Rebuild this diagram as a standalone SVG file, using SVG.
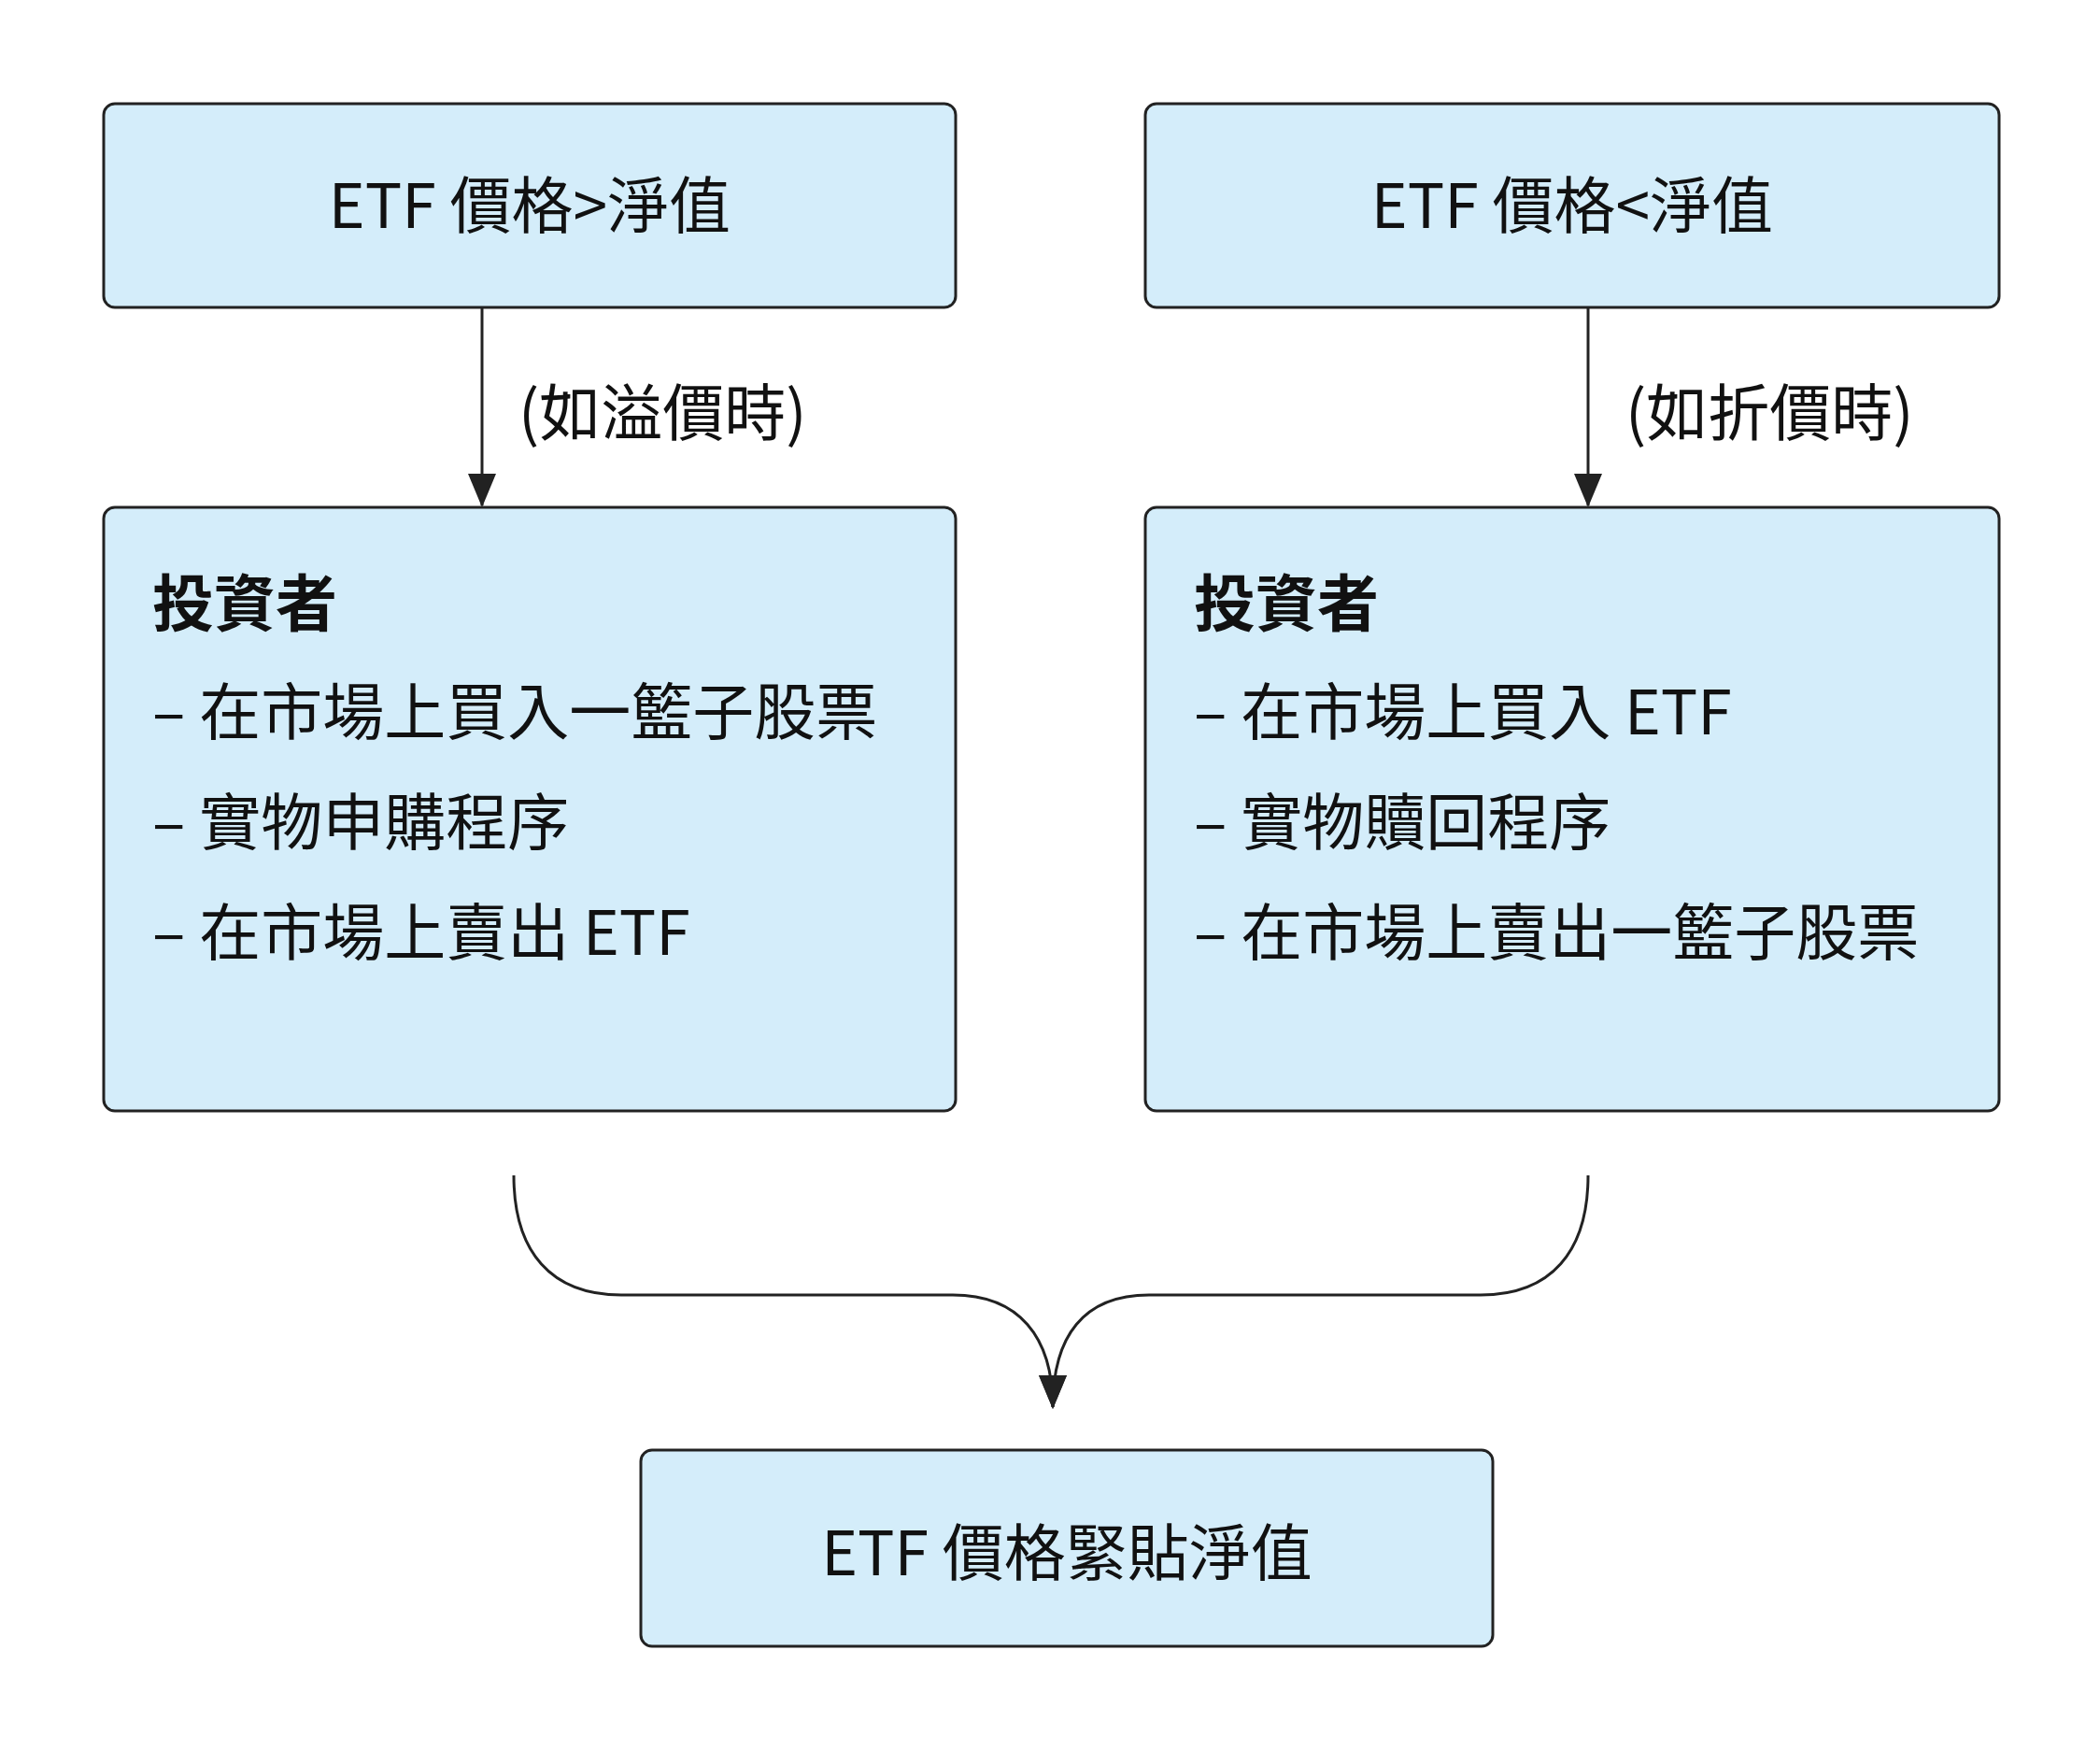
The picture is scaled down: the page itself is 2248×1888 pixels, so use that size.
<svg xmlns="http://www.w3.org/2000/svg" width="2248" height="1888" viewBox="0 0 2248 1888">
<defs>
<style>
.box{fill:#d4edfa;stroke:#222;stroke-width:3}
text{font-family:"Noto Sans CJK TC","Noto Sans",sans-serif;fill:#111;font-size:66px}
.c{text-anchor:middle}
.b{font-weight:bold}
.ln{fill:none;stroke:#222;stroke-width:3}
</style>
<marker id="ah" markerWidth="12" markerHeight="12" refX="10" refY="6" orient="auto" markerUnits="userSpaceOnUse" viewBox="0 0 12 12"><path d="M0,0 L12,6 L0,12 Z" fill="#222"/></marker>
<marker id="ah2" markerWidth="36" markerHeight="36" refX="34" refY="18" orient="auto" markerUnits="userSpaceOnUse" viewBox="0 0 36 36"><path d="M0,3 L36,18 L0,33 Z" fill="#222"/></marker>
</defs>
<rect width="2248" height="1888" fill="#fff"/>
<g id="n1"><rect class="box" x="111" y="111" width="912" height="218" rx="12"/><text class="c" x="567" y="244">ETF 價格&gt;淨值</text></g>
<g id="n2"><rect class="box" x="1226" y="111" width="914" height="218" rx="12"/><text class="c" x="1683" y="244">ETF 價格&lt;淨值</text></g>
<g id="n3"><rect class="box" x="111" y="543" width="912" height="646" rx="12"/>
<text class="b" x="163" y="670">投資者</text>
<text x="163" y="786">–  在市場上買入一籃子股票</text>
<text x="163" y="904">–  實物申購程序</text>
<text x="163" y="1022">–  在市場上賣出 ETF</text></g>
<g id="n4"><rect class="box" x="1226" y="543" width="914" height="646" rx="12"/>
<text class="b" x="1278" y="670">投資者</text>
<text x="1278" y="786">–  在市場上買入 ETF</text>
<text x="1278" y="904">–  實物贖回程序</text>
<text x="1278" y="1022">–  在市場上賣出一籃子股票</text></g>
<g id="n5"><rect class="box" x="686" y="1552" width="912" height="210" rx="12"/><text class="c" x="1142" y="1686">ETF 價格緊貼淨值</text></g>
<g id="connectors">
<line class="ln" x1="516" y1="329" x2="516" y2="541" marker-end="url(#ah2)"/>
<line class="ln" x1="1700" y1="329" x2="1700" y2="541" marker-end="url(#ah2)"/>
<text x="555" y="466">(如溢價時)</text>
<text x="1740" y="466">(如折價時)</text>
<path class="ln" d="M550,1258 C550,1340 590,1386 665,1386 L1020,1386 C1090,1386 1127,1430 1127,1506" marker-end="url(#ah2)"/>
<path class="ln" d="M1700,1258 C1700,1340 1660,1386 1585,1386 L1230,1386 C1160,1386 1127,1430 1127,1506" marker-end="url(#ah2)"/>
</g>
</svg>
